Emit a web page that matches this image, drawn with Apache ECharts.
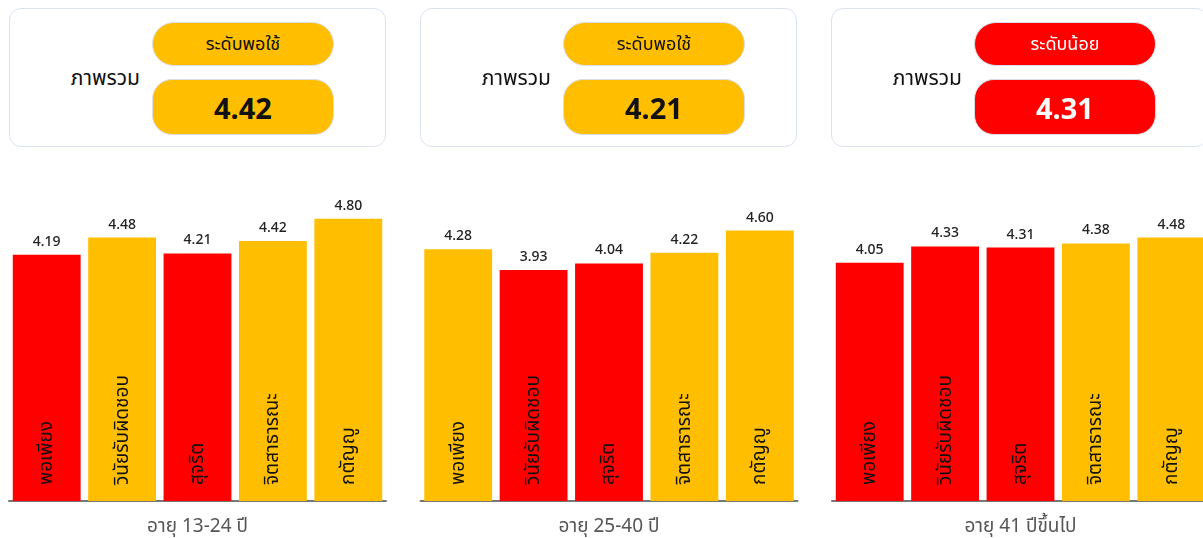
<!DOCTYPE html>
<html>
<head>
<meta charset="utf-8">
<script src="https://cdn.jsdelivr.net/npm/echarts@6/dist/echarts.min.js"></script>
<style>
  html, body { margin: 0; padding: 0; background: #fff; }
  body { width: 1203px; height: 538px; overflow: hidden; position: relative;
         font-family: "Noto Sans", "Noto Sans Thai", "DejaVu Sans", sans-serif; }
  #chart { position: absolute; left: 0; top: 0; width: 1203px; height: 538px; }
  .card { position: absolute; top: 8px; width: 377px; height: 139px; box-sizing: border-box;
          border: 1.5px solid #dbe2f0; border-radius: 12px; background: #fff; }
  .card .title { position: absolute; left: 40px; top: 54px; width: 90px; text-align: right;
                 font-size: 21px; color: #111; }
  .pill { position: absolute; left: 142px; width: 182px; box-sizing: border-box;
          border: 1px solid #d8dde6; display: flex; align-items: center; justify-content: center; }
  .pill.level { top: 13px; height: 44px; border-radius: 22px; font-size: 18px; }
  .pill.value { top: 70px; height: 56px; border-radius: 20px; font-size: 29px; font-weight: bold; }
</style>
</head>
<body>
<div id="chart"></div>
<script>
// หมวดหมู่
const categories = ["พอเพียง", "วินัยรับผิดชอบ", "สุจริต", "จิตสาธารณะ", "กตัญญู"];

// ช่วงอายุ
const groupNames = ["อายุ 13-24 ปี", "อายุ 25-40 ปี", "อายุ 41 ปีขึ้นไป"];

// ค่าแต่ละกลุ่ม
const values13to24 = [4.19, 4.48, 4.21, 4.42, 4.80];
const values25to40 = [4.28, 3.93, 4.04, 4.22, 4.60];
const values41up = [4.05, 4.33, 4.31, 4.38, 4.48];

// ระดับของแต่ละแท่ง
const levels13to24 = ["น้อย", "พอใช้", "น้อย", "พอใช้", "พอใช้"];
const levels25to40 = ["พอใช้", "น้อย", "น้อย", "พอใช้", "พอใช้"];
const levels41up = ["น้อย", "น้อย", "น้อย", "พอใช้", "พอใช้"];

// ภาพรวม
const overallValues = [4.42, 4.21, 4.31];
const overallLevels = ["พอใช้", "พอใช้", "น้อย"];

const levelColor = { "น้อย": "#ff0000", "พอใช้": "#ffbf00" };
const levelText = { "น้อย": "#fff", "พอใช้": "#111" };

const allValues = [values13to24, values25to40, values41up];
const allLevels = [levels13to24, levels25to40, levels41up];

const panelStep = 411;

// การ์ดภาพรวม
overallValues.forEach((v, i) => {
  const card = document.createElement("div");
  card.className = "card";
  card.style.left = (9 + panelStep * i) + "px";
  const lv = overallLevels[i];
  card.innerHTML =
    '<div class="title">ภาพรวม</div>' +
    '<div class="pill level" style="background:' + levelColor[lv] + ';color:' + levelText[lv] + '">ระดับ' + lv + '</div>' +
    '<div class="pill value" style="background:' + levelColor[lv] + ';color:' + levelText[lv] + '">' + v.toFixed(2) + '</div>';
  document.body.appendChild(card);
});

const chartInstance = echarts.init(document.getElementById("chart"));

const grids = [], xAxes = [], yAxes = [], series = [];
allValues.forEach((vals, i) => {
  grids.push({ left: 9 + 411.5 * i, width: 377, top: 207, height: 294, containLabel: false, outerBoundsMode: "none" });
  xAxes.push({
    type: "category",
    gridIndex: i,
    data: categories,
    axisLine: { lineStyle: { color: "#777", width: 2 } },
    axisTick: { show: false },
    axisLabel: { show: false },
    name: groupNames[i],
    nameLocation: "middle",
    nameGap: 16,
    nameTextStyle: { fontSize: 19, color: "#555" },
  });
  yAxes.push({ type: "value", gridIndex: i, min: 0, max: 5, show: false });
  series.push({
    type: "bar",
    xAxisIndex: i,
    yAxisIndex: i,
    barCategoryGap: "10%",
    data: vals.map((v, j) => ({ value: v, itemStyle: { color: levelColor[allLevels[i][j]] } })),
    label: {
      show: true,
      position: "top",
      distance: 6,
      fontSize: 14,
      fontWeight: 500,
      color: "#222",
      formatter: (p) => p.value.toFixed(2),
    },
  });
  // ชื่อหมวดในแท่ง
  series.push({
    type: "bar",
    xAxisIndex: i,
    yAxisIndex: i,
    barCategoryGap: "10%",
    barGap: "-100%",
    silent: true,
    itemStyle: { color: "transparent" },
    data: vals,
    label: {
      show: true,
      position: "insideBottom",
      rotate: 90,
      align: "left",
      verticalAlign: "middle",
      distance: 16,
      fontSize: 19,
      color: "#111",
      formatter: "{b}",
    },
  });
});

chartInstance.setOption({
  animation: false,
  textStyle: { fontFamily: '"Noto Sans", "Noto Sans Thai", "DejaVu Sans", sans-serif' },
  grid: grids,
  xAxis: xAxes,
  yAxis: yAxes,
  series: series,
});
</script>
</body>
</html>
